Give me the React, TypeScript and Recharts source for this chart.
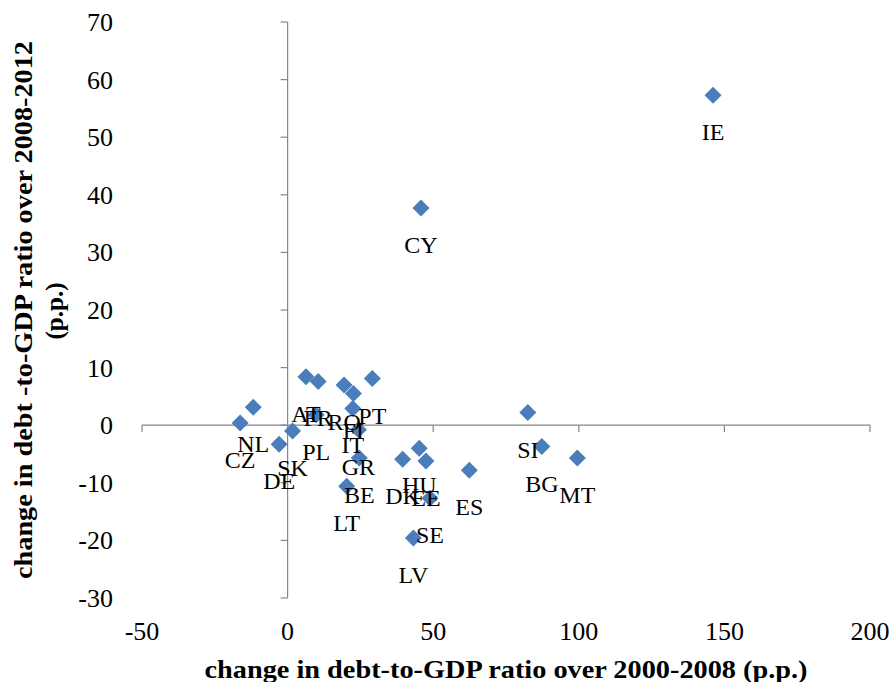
import React from "react";
import { ScatterChart, Scatter, XAxis, YAxis, ReferenceLine, Label } from "recharts";

const countries = ["IE", "CY", "SI", "BG", "MT", "ES", "LV", "SE", "EE", "DK", "HU", "NL", "CZ", "DE", "SK", "PL", "AT", "FR", "RO", "FI", "PT", "IT", "GR", "BE", "LT"];
const change2000to2008 = [146.1, 45.8, 82.5, 87.3, 99.5, 62.4, 43.2, 48.9, 47.5, 39.5, 45.2, -11.8, -16.3, -2.9, 1.7, 9.8, 6.3, 10.5, 19.4, 22.6, 29.1, 22.4, 24.3, 24.6, 20.3];
const change2008to2012 = [57.3, 37.7, 2.2, -3.7, -5.7, -7.8, -19.6, -12.7, -6.2, -5.9, -4.0, 3.1, 0.4, -3.3, -1.0, 1.8, 8.4, 7.6, 7.0, 5.5, 8.1, 2.9, -0.8, -5.7, -10.6];

const xTicks = [-50, 0, 50, 100, 150, 200];
const yTicks = [-30, -20, -10, 0, 10, 20, 30, 40, 50, 60, 70];

const xTitle = "change in debt-to-GDP ratio over 2000-2008 (p.p.)";
const yTitleLine1 = "change in debt -to-GDP ratio over 2008-2012";
const yTitleLine2 = "(p.p.)";

const data = countries.map((c, i) => ({ name: c, x: change2000to2008[i], y: change2008to2012[i] }));

const BLUE = "#4A7EBB";
const GRAY = "#868686";
const FONT = "'Liberation Serif', serif";

const Diamond = (props: any) => {
  const { cx, cy } = props;
  const r = 8.5;
  return <polygon points={`${cx},${cy - r} ${cx + r},${cy} ${cx},${cy + r} ${cx - r},${cy}`} fill={BLUE} />;
};

const PointLabel = (props: any) => {
  const { cx, cy, payload } = props;
  return (
    <text x={cx} y={cy + 45} textAnchor="middle" fontFamily={FONT} fontSize={24} fill="#000">
      {payload.name}
    </text>
  );
};

const XTick = (props: any) => {
  const { x, y, payload } = props;
  return (
    <text x={x} y={y + 42} textAnchor="middle" fontFamily={FONT} fontSize={26} fill="#000">
      {payload.value}
    </text>
  );
};

const YTick = (props: any) => {
  const { x, y, payload } = props;
  return (
    <text x={x - 29} y={y + 9} textAnchor="end" fontFamily={FONT} fontSize={26} fill="#000">
      {payload.value}
    </text>
  );
};

const XTitle = () => (
  <text x={506} y={678} textAnchor="middle" fontFamily={FONT} fontWeight="bold" fontSize={25} fill="#000" textLength={603} lengthAdjust="spacingAndGlyphs">
    {xTitle}
  </text>
);

const YTitle = () => (
  <g>
    <text x={0} y={0} transform="translate(32,310) rotate(-90)" textAnchor="middle" fontFamily={FONT} fontWeight="bold" fontSize={25} fill="#000" textLength={538} lengthAdjust="spacingAndGlyphs">
      {yTitleLine1}
    </text>
    <text x={0} y={0} transform="translate(63,311) rotate(-90)" textAnchor="middle" fontFamily={FONT} fontWeight="bold" fontSize={25} fill="#000">
      {yTitleLine2}
    </text>
  </g>
);

export default function App() {
  return (
    <div style={{ position: "absolute", left: 0, top: 0, background: "#fff" }}>
      <ScatterChart width={893} height={682} margin={{ top: 22, right: 23, left: 0, bottom: 0 }}>
        <XAxis
          type="number"
          dataKey="x"
          domain={[-50, 200]}
          ticks={xTicks}
          axisLine={false}
          tickLine={false}
          tickSize={0}
          tickMargin={0}
          height={84}
          tick={XTick}
          allowDataOverflow
        >
          <Label content={XTitle} />
        </XAxis>
        <YAxis
          type="number"
          dataKey="y"
          domain={[-30, 70]}
          ticks={yTicks}
          axisLine={false}
          tickLine={false}
          tickSize={0}
          tickMargin={0}
          width={142}
          tick={YTick}
          allowDataOverflow
        >
          <Label content={YTitle} />
        </YAxis>
        <ReferenceLine x={0} stroke={GRAY} strokeWidth={1.2} />
        <ReferenceLine y={0} stroke={GRAY} strokeWidth={1.2} />
        {yTicks.map((t) => (
          <ReferenceLine key={"yt" + t} segment={[{ x: -2.4, y: t }, { x: 0, y: t }]} stroke={GRAY} strokeWidth={1.2} />
        ))}
        {xTicks.map((t) => (
          <ReferenceLine key={"xt" + t} segment={[{ x: t, y: 0 }, { x: t, y: -1.2 }]} stroke={GRAY} strokeWidth={1.2} />
        ))}
        <Scatter data={data} shape={Diamond} isAnimationActive={false} />
        <Scatter data={data} shape={PointLabel} isAnimationActive={false} />
      </ScatterChart>
    </div>
  );
}
